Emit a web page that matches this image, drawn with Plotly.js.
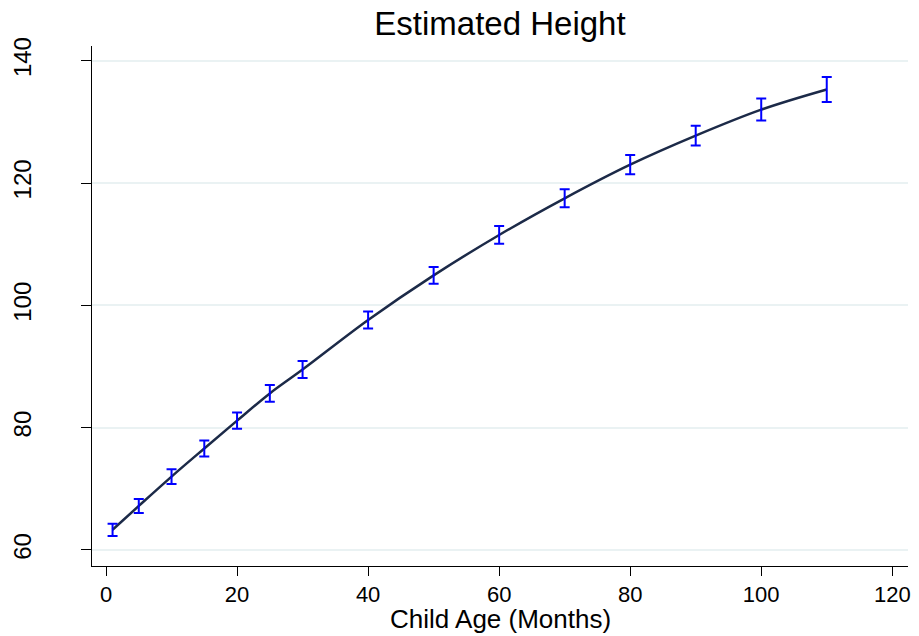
<!DOCTYPE html>
<html>
<head>
<meta charset="utf-8">
<script src="https://cdn.plot.ly/plotly-3.0.1.min.js"></script>
<style>html,body{margin:0;padding:0;background:#fff;}#chart{width:919px;height:636px;}</style>
</head>
<body>
<div id="chart"></div>
<script>
const ageMonths = [1, 5, 10, 15, 20, 25, 30, 40, 50, 60, 70, 80, 90, 100, 110];
const estHeight = [63.3, 67.2, 72.0, 76.6, 81.15, 85.6, 89.5, 97.6, 104.9, 111.5, 117.5, 123.0, 127.75, 132.0, 135.3];
const ciHalf = [1.0, 1.15, 1.2, 1.3, 1.33, 1.37, 1.39, 1.39, 1.37, 1.45, 1.48, 1.58, 1.6, 1.8, 2.05];
const xTicks = [0, 20, 40, 60, 80, 100, 120];
const yTicks = [60, 80, 100, 120, 140];
const xTitle = 'Child Age (Months)';

const font = "Liberation Sans, Arial, sans-serif";

const traces = [
  {
    x: ageMonths, y: estHeight, type: 'scatter', mode: 'lines',
    line: {color: '#1c2a48', width: 2.5, shape: 'spline'},
    hoverinfo: 'skip', showlegend: false
  },
  {
    x: ageMonths, y: estHeight, type: 'scatter', mode: 'markers',
    marker: {size: 1, color: 'rgba(0,0,0,0)'},
    error_y: {type: 'data', array: ciHalf, symmetric: true, color: '#0000ff', thickness: 2, width: 5},
    showlegend: false
  }
];

const layout = {
  width: 919, height: 636,
  paper_bgcolor: '#ffffff', plot_bgcolor: '#ffffff',
  margin: {l: 92, r: 11, t: 46, b: 70, autoexpand: false},
  font: {family: font, color: '#000'},
  title: {text: 'Estimated Height', font: {family: font, size: 33, color: '#000'}, x: 0.5, xref: 'paper', xanchor: 'center', y: 0.963, yref: 'container', yanchor: 'middle'},
  xaxis: {
    range: [-2.14, 122.4], tickvals: xTicks, ticktext: xTicks.map(String),
    showgrid: false, zeroline: false, showline: true, linecolor: '#000', linewidth: 1,
    ticks: 'outside', ticklen: 9, tickcolor: '#000', tickwidth: 1,
    tickfont: {family: font, size: 22, color: '#000'}, ticklabelstandoff: 0,
    automargin: false
  },
  yaxis: {
    range: [57.38, 142.4], tickvals: yTicks, ticktext: yTicks.map(String),
    showgrid: true, gridcolor: '#eaf2f3', gridwidth: 2, zeroline: false,
    showline: true, linecolor: '#000', linewidth: 1,
    ticks: 'outside', ticklen: 10, tickcolor: '#000', tickwidth: 1, tickangle: -90,
    tickfont: {family: font, size: 24, color: '#000'}, ticklabelstandoff: 40,
    automargin: false
  },
  annotations: [{
    text: xTitle, xref: 'paper', yref: 'paper', x: 0.5, y: 0,
    xanchor: 'center', yanchor: 'middle', yshift: -53, showarrow: false,
    font: {family: font, size: 26, color: '#000'}
  }]
};

Plotly.newPlot('chart', traces, layout, {displayModeBar: false, staticPlot: true});
</script>
</body>
</html>
